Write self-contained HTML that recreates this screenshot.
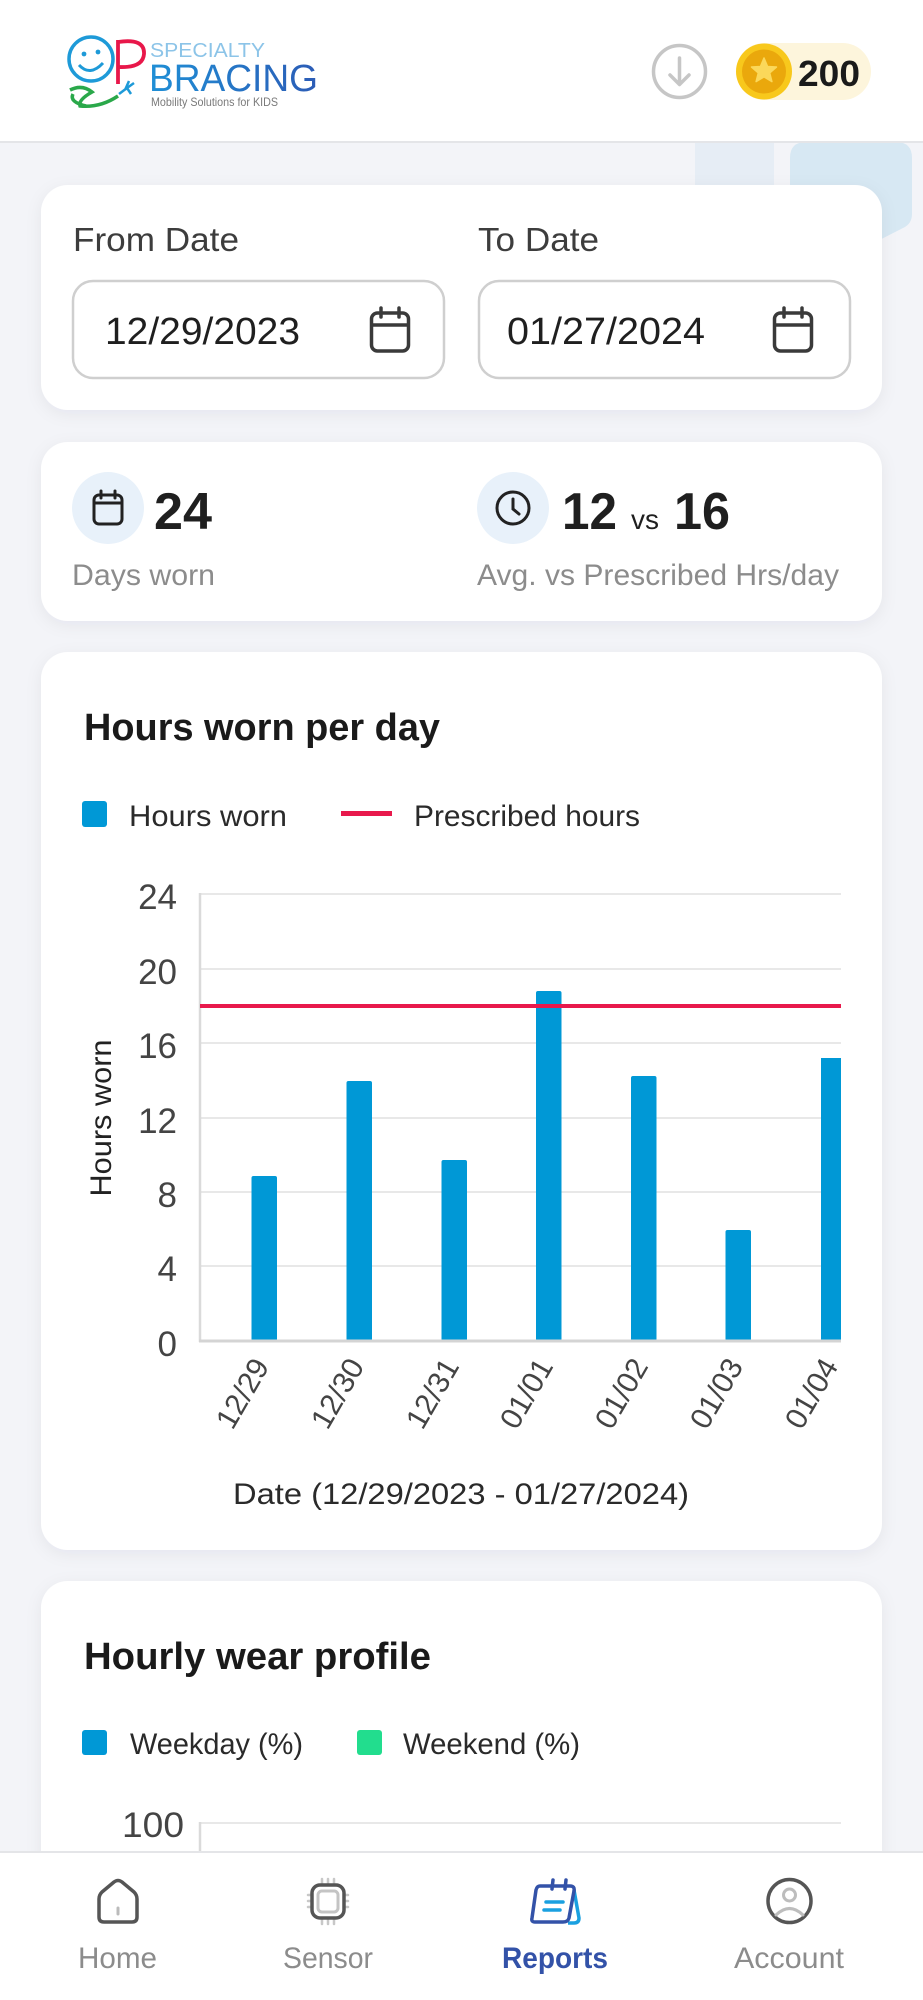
<!DOCTYPE html>
<html>
<head>
<meta charset="utf-8">
<style>
html,body{margin:0;padding:0;width:923px;height:2000px;overflow:hidden;background:#f3f4f8;}
svg{display:block;}
text{font-family:"Liberation Sans",sans-serif;}
</style>
</head>
<body>
<svg width="923" height="2000" viewBox="0 0 923 2000" xmlns="http://www.w3.org/2000/svg">
<defs>
<filter id="sh" x="-10%" y="-10%" width="120%" height="120%">
<feDropShadow dx="0" dy="4" stdDeviation="8" flood-color="#1a2a50" flood-opacity="0.06"/>
</filter>
<linearGradient id="bg" x1="0" y1="0" x2="1" y2="0">
<stop offset="0" stop-color="#1f8fd6"/><stop offset="1" stop-color="#2c5cb6"/>
</linearGradient>
</defs>

<rect x="0" y="0" width="923" height="2000" fill="#f3f4f8"/>

<!-- decorative shapes -->
<rect x="695" y="142" width="79" height="80" fill="#e6edf5"/>
<path d="M790 158 Q790 142 806 142 L896 142 Q912 142 912 158 L912 214 Q912 224 903 228 L860 250 L790 250 Z" fill="#d7e8f3"/>

<!-- header -->
<rect x="0" y="0" width="923" height="141" fill="#ffffff"/>
<rect x="0" y="141" width="923" height="2" fill="#e4e5e8"/>

<!-- logo -->
<circle cx="91" cy="59" r="22" fill="none" stroke="#1e9ad8" stroke-width="3.5"/>
<circle cx="84" cy="54" r="2.4" fill="#1e9ad8"/>
<circle cx="98" cy="52" r="2.4" fill="#1e9ad8"/>
<path d="M79 65 Q90 77 103 63" fill="none" stroke="#1e9ad8" stroke-width="3"/>
<path d="M118 84 L118 40 M118 42 Q145 38 144 54 Q143 68 119 67" fill="none" stroke="#e8174a" stroke-width="3.8"/>
<path d="M70 90 Q82 84 92 92 Q78 100 80 106 Q100 108 118 96 M73 94 Q69 102 86 106" fill="none" stroke="#2aa84a" stroke-width="3.5"/>
<path d="M119 94 L127 88 L134 83 M127 88 L131 94 M125 90 L129 81" fill="none" stroke="#1e9ad8" stroke-width="2.5"/>
<text x="150" y="57" font-size="20" fill="#8cc4e8" textLength="115" lengthAdjust="spacingAndGlyphs">SPECIALTY</text>
<text x="149" y="91" font-size="38" fill="url(#bg)" textLength="169" lengthAdjust="spacingAndGlyphs">BRACING</text>
<text x="151" y="106" font-size="12" fill="#7a7a7a" textLength="127" lengthAdjust="spacingAndGlyphs">Mobility Solutions for KIDS</text>

<!-- download -->
<circle cx="679.5" cy="71.5" r="26" fill="none" stroke="#c6c6c6" stroke-width="3.5"/>
<path d="M679.5 58 L679.5 84 M670 75 L679.5 84.5 L689 75" fill="none" stroke="#c6c6c6" stroke-width="3.5" stroke-linecap="round" stroke-linejoin="round"/>

<!-- coin pill -->
<rect x="736" y="43" width="135" height="57" rx="28.5" fill="#fdf5dc"/>
<circle cx="764" cy="71.5" r="28" fill="#f8c81c"/>
<circle cx="764" cy="71.5" r="22" fill="#eaa80c"/>
<path d="M764 58 L767.6 66.5 L776.5 67 L769.7 72.9 L771.9 81.6 L764 76.9 L756.1 81.6 L758.3 72.9 L751.5 67 L760.4 66.5 Z" fill="#fbd85a" stroke="#fbd85a" stroke-width="1.5" stroke-linejoin="round"/>
<text x="798" y="86" font-size="36" font-weight="bold" fill="#1a1a1a" textLength="62" lengthAdjust="spacingAndGlyphs">200</text>

<!-- card 1 -->
<rect x="41" y="185" width="841" height="225" rx="27" fill="#ffffff" filter="url(#sh)"/>
<text x="73" y="251" font-size="33" fill="#3d3d3d" textLength="166" lengthAdjust="spacingAndGlyphs">From Date</text>
<text x="478" y="251" font-size="33" fill="#3d3d3d" textLength="121" lengthAdjust="spacingAndGlyphs">To Date</text>
<rect x="73" y="281" width="371" height="97" rx="20" fill="#fff" stroke="#cfcfcf" stroke-width="2.5"/>
<rect x="479" y="281" width="371" height="97" rx="20" fill="#fff" stroke="#cfcfcf" stroke-width="2.5"/>
<text x="105" y="344" font-size="38" fill="#1f1f1f" textLength="195" lengthAdjust="spacingAndGlyphs">12/29/2023</text>
<text x="507" y="344" font-size="38" fill="#1f1f1f" textLength="198" lengthAdjust="spacingAndGlyphs">01/27/2024</text>
<g fill="none" stroke="#3a3a3a" stroke-width="3.5" stroke-linecap="round">
<rect x="371.5" y="313" width="37" height="38" rx="6"/>
<line x1="372" y1="325" x2="408" y2="325"/>
<line x1="381" y1="308" x2="381" y2="317"/>
<line x1="399" y1="308" x2="399" y2="317"/>
<rect x="774.5" y="313" width="37" height="38" rx="6"/>
<line x1="775" y1="325" x2="811" y2="325"/>
<line x1="784" y1="308" x2="784" y2="317"/>
<line x1="802" y1="308" x2="802" y2="317"/>
</g>

<!-- card 2 -->
<rect x="41" y="442" width="841" height="179" rx="27" fill="#ffffff" filter="url(#sh)"/>
<circle cx="108" cy="508" r="36" fill="#e8f1fa"/>
<g fill="none" stroke="#222" stroke-width="3" stroke-linecap="round">
<rect x="94" y="495" width="28" height="29" rx="5"/>
<line x1="94" y1="503" x2="122" y2="503"/>
<line x1="101" y1="491" x2="101" y2="498"/>
<line x1="115" y1="491" x2="115" y2="498"/>
</g>
<text x="154" y="529" font-size="52" font-weight="bold" fill="#1f1f1f" textLength="58" lengthAdjust="spacingAndGlyphs">24</text>
<circle cx="513" cy="508" r="36" fill="#e8f1fa"/>
<g fill="none" stroke="#222" stroke-width="3" stroke-linecap="round">
<circle cx="513" cy="508" r="16"/>
<path d="M513 499 L513 509 L519 514"/>
</g>
<text x="562" y="529" font-size="52" font-weight="bold" fill="#1f1f1f" textLength="55" lengthAdjust="spacingAndGlyphs">12</text>
<text x="631" y="529" font-size="28" fill="#1f1f1f" textLength="28" lengthAdjust="spacingAndGlyphs">vs</text>
<text x="674" y="529" font-size="52" font-weight="bold" fill="#1f1f1f" textLength="56" lengthAdjust="spacingAndGlyphs">16</text>
<text x="72" y="585" font-size="30" fill="#8c8c8c" textLength="143" lengthAdjust="spacingAndGlyphs">Days worn</text>
<text x="477" y="585" font-size="30" fill="#8c8c8c" textLength="362" lengthAdjust="spacingAndGlyphs">Avg. vs Prescribed Hrs/day</text>

<!-- card 3 -->
<rect x="41" y="652" width="841" height="898" rx="27" fill="#ffffff" filter="url(#sh)"/>
<text x="84" y="740" font-size="38" font-weight="bold" fill="#1a1a1a" textLength="356" lengthAdjust="spacingAndGlyphs">Hours worn per day</text>
<rect x="82" y="801" width="25" height="26" rx="3" fill="#0098d6"/>
<text x="129" y="826" font-size="30" fill="#2a2a2a" textLength="158" lengthAdjust="spacingAndGlyphs">Hours worn</text>
<rect x="341" y="811" width="51" height="5" fill="#e8194c"/>
<text x="414" y="826" font-size="30" fill="#2a2a2a" textLength="226" lengthAdjust="spacingAndGlyphs">Prescribed hours</text>

<g stroke="#e8e8e8" stroke-width="2">
<line x1="200" y1="894" x2="841" y2="894"/>
<line x1="200" y1="969" x2="841" y2="969"/>
<line x1="200" y1="1043" x2="841" y2="1043"/>
<line x1="200" y1="1118" x2="841" y2="1118"/>
<line x1="200" y1="1192" x2="841" y2="1192"/>
<line x1="200" y1="1266" x2="841" y2="1266"/>
</g>
<line x1="200" y1="893" x2="200" y2="1342" stroke="#dadada" stroke-width="2.5"/>

<g fill="#0098d6">
<rect x="251.5" y="1176" width="25.5" height="165" rx="2"/>
<rect x="346.5" y="1081" width="25.5" height="260" rx="2"/>
<rect x="441.5" y="1160" width="25.5" height="181" rx="2"/>
<rect x="536" y="991" width="25.5" height="350" rx="2"/>
<rect x="631" y="1076" width="25.5" height="265" rx="2"/>
<rect x="725.5" y="1230" width="25.5" height="111" rx="2"/>
<rect x="821" y="1058" width="20" height="283"/>
</g>
<line x1="199" y1="1341" x2="841" y2="1341" stroke="#d4d4d4" stroke-width="3"/>
<rect x="200" y="1004" width="641" height="4" fill="#e8194c"/>

<g font-size="35" fill="#444" text-anchor="end">
<text x="177" y="909">24</text>
<text x="177" y="984">20</text>
<text x="177" y="1058">16</text>
<text x="177" y="1133">12</text>
<text x="177" y="1207">8</text>
<text x="177" y="1281">4</text>
<text x="177" y="1356">0</text>
</g>
<text transform="translate(111,1118) rotate(-90)" font-size="30" fill="#222" text-anchor="middle" textLength="157" lengthAdjust="spacingAndGlyphs">Hours worn</text>

<g font-size="30" fill="#444" text-anchor="end">
<text transform="translate(270,1366) rotate(-60)">12/29</text>
<text transform="translate(365,1366) rotate(-60)">12/30</text>
<text transform="translate(460,1366) rotate(-60)">12/31</text>
<text transform="translate(554,1366) rotate(-60)">01/01</text>
<text transform="translate(649,1366) rotate(-60)">01/02</text>
<text transform="translate(744,1366) rotate(-60)">01/03</text>
<text transform="translate(839,1366) rotate(-60)">01/04</text>
</g>
<text x="233" y="1504" font-size="30" fill="#2a2a2a" textLength="456" lengthAdjust="spacingAndGlyphs">Date (12/29/2023 - 01/27/2024)</text>

<!-- card 4 -->
<rect x="41" y="1581" width="841" height="500" rx="27" fill="#ffffff" filter="url(#sh)"/>
<text x="84" y="1669" font-size="38" font-weight="bold" fill="#1a1a1a" textLength="347" lengthAdjust="spacingAndGlyphs">Hourly wear profile</text>
<rect x="82" y="1730" width="25" height="25" rx="3" fill="#0098d6"/>
<text x="130" y="1754" font-size="30" fill="#2a2a2a" textLength="173" lengthAdjust="spacingAndGlyphs">Weekday (%)</text>
<rect x="357" y="1730" width="25" height="25" rx="3" fill="#22dd8e"/>
<text x="403" y="1754" font-size="30" fill="#2a2a2a" textLength="177" lengthAdjust="spacingAndGlyphs">Weekend (%)</text>
<text x="184" y="1837" font-size="35" fill="#444" text-anchor="end" textLength="62" lengthAdjust="spacingAndGlyphs">100</text>
<line x1="200" y1="1823" x2="841" y2="1823" stroke="#e8e8e8" stroke-width="2"/>
<line x1="200" y1="1822" x2="200" y2="1860" stroke="#dadada" stroke-width="2.5"/>

<!-- bottom nav -->
<rect x="0" y="1852" width="923" height="148" fill="#ffffff"/>
<rect x="0" y="1851" width="923" height="2" fill="#e4e5e8"/>

<!-- home -->
<path d="M99 1899 Q99 1895 102 1892 L114 1882 Q118 1879 122 1882 L134 1892 Q137 1895 137 1899 L137 1917 Q137 1922 132 1922 L104 1922 Q99 1922 99 1917 Z" fill="none" stroke="#555" stroke-width="3.5" stroke-linejoin="round"/>
<line x1="118" y1="1908" x2="118" y2="1914" stroke="#bbb" stroke-width="3" stroke-linecap="round"/>
<text x="117.5" y="1968" font-size="30" fill="#8c8c8c" text-anchor="middle" textLength="79" lengthAdjust="spacingAndGlyphs">Home</text>

<!-- sensor -->
<g stroke="#c8c8c8" stroke-width="2.5" stroke-linecap="round">
<line x1="322" y1="1879" x2="322" y2="1884"/><line x1="328" y1="1879" x2="328" y2="1884"/><line x1="334" y1="1879" x2="334" y2="1884"/>
<line x1="322" y1="1919" x2="322" y2="1924"/><line x1="328" y1="1919" x2="328" y2="1924"/><line x1="334" y1="1919" x2="334" y2="1924"/>
<line x1="308" y1="1895" x2="312" y2="1895"/><line x1="308" y1="1901" x2="312" y2="1901"/><line x1="308" y1="1907" x2="312" y2="1907"/>
<line x1="344" y1="1895" x2="348" y2="1895"/><line x1="344" y1="1901" x2="348" y2="1901"/><line x1="344" y1="1907" x2="348" y2="1907"/>
</g>
<rect x="312" y="1885" width="32" height="33" rx="8" fill="#fff" stroke="#555" stroke-width="3.5"/>
<rect x="318" y="1891" width="20" height="21" rx="4" fill="none" stroke="#c4c4c4" stroke-width="3"/>
<text x="328" y="1968" font-size="30" fill="#8c8c8c" text-anchor="middle" textLength="90" lengthAdjust="spacingAndGlyphs">Sensor</text>

<!-- reports -->
<path d="M574 1890 L579 1918 Q579 1923 574 1923 L568 1923" fill="none" stroke="#1aa0e0" stroke-width="3.5" stroke-linejoin="round"/>
<path d="M540 1886 L570 1886 Q575 1886 574 1891 L569 1918 Q568 1922 563 1922 L535 1922 Q531 1922 532 1918 L536 1890 Q537 1886 540 1886 Z" fill="none" stroke="#3352a8" stroke-width="3.5" stroke-linejoin="round"/>
<line x1="553" y1="1880" x2="552" y2="1889" stroke="#3352a8" stroke-width="3.5" stroke-linecap="round"/>
<line x1="566" y1="1880" x2="565" y2="1889" stroke="#3352a8" stroke-width="3.5" stroke-linecap="round"/>
<line x1="546" y1="1902" x2="563" y2="1902" stroke="#1aa0e0" stroke-width="3.5" stroke-linecap="round"/>
<line x1="544" y1="1910" x2="560" y2="1910" stroke="#1aa0e0" stroke-width="3.5" stroke-linecap="round"/>
<text x="555" y="1968" font-size="30" font-weight="bold" fill="#3352a8" text-anchor="middle" textLength="106" lengthAdjust="spacingAndGlyphs">Reports</text>

<!-- account -->
<circle cx="789.5" cy="1901" r="21.5" fill="none" stroke="#555" stroke-width="3.5"/>
<circle cx="789.5" cy="1895" r="6" fill="none" stroke="#bdbdbd" stroke-width="3"/>
<path d="M776 1915 Q789.5 1902 803 1915" fill="none" stroke="#bdbdbd" stroke-width="3" stroke-linecap="round"/>
<text x="789" y="1968" font-size="30" fill="#8c8c8c" text-anchor="middle" textLength="110" lengthAdjust="spacingAndGlyphs">Account</text>
</svg>
</body>
</html>
